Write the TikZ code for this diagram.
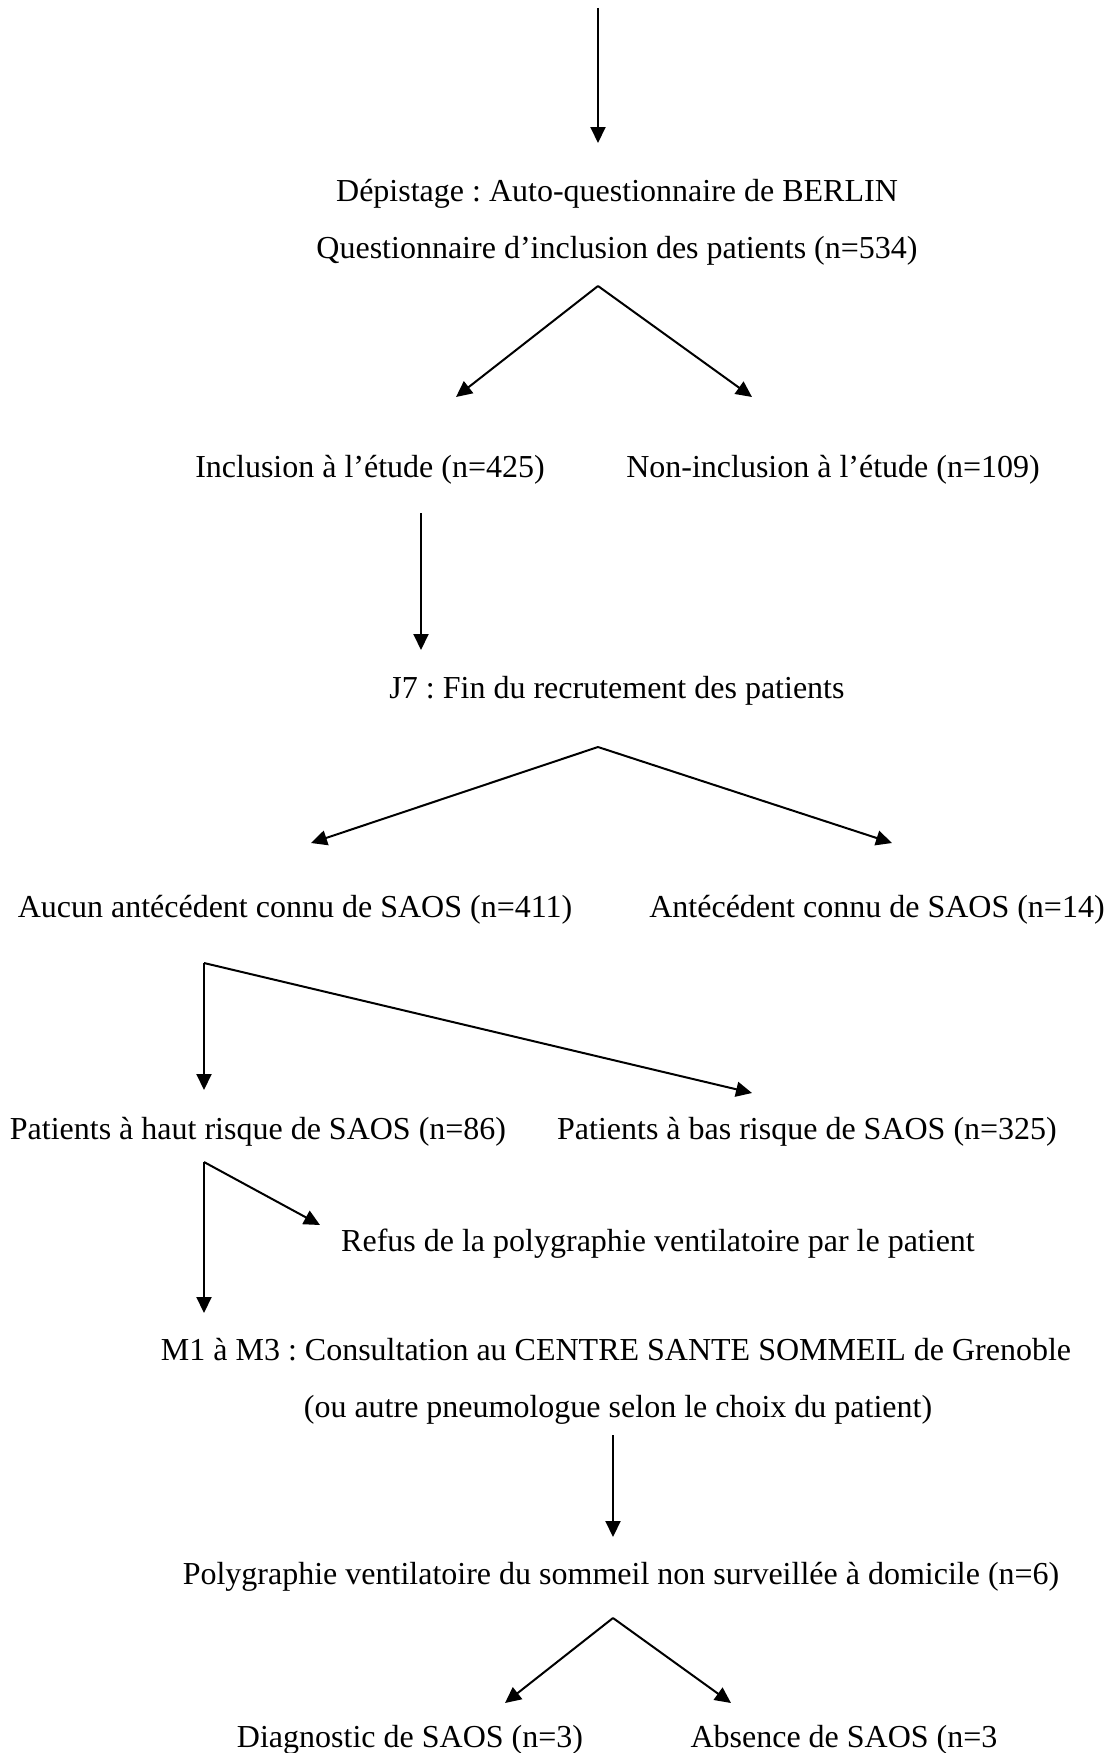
\documentclass[tikz,border=0pt]{standalone}
\usepackage{fontspec}
\setmainfont{Liberation Serif}
\usetikzlibrary{arrows.meta}
\frenchspacing

\begin{document}
\begin{tikzpicture}[x=1pt, y=-1pt,
  flow/.style={arrows={-Triangle[length=16pt,width=15pt]}, line width=2pt},
  lbl/.style={anchor=base, inner sep=0pt, font=\fontsize{32}{38}\selectfont}]
\useasboundingbox (0,0) rectangle (1104,1753);

%steps
\node[lbl] at (617,201) (dep) {Dépistage : Auto-questionnaire de BERLIN};
\node[lbl] at (617,258) (quest) {Questionnaire d’inclusion des patients (n=534)};
\node[lbl] at (370,477) (incl) {Inclusion à l’étude (n=425)};
\node[lbl] at (833,477) (nonincl) {Non-inclusion à l’étude (n=109)};
\node[lbl] at (617,698) (fin) {J7 : Fin du recrutement des patients};
\node[lbl] at (295,917) (aucun) {Aucun antécédent connu de SAOS (n=411)};
\node[lbl] at (877,917) (connu) {Antécédent connu de SAOS (n=14)};
\node[lbl] at (258,1139) (haut) {Patients à haut risque de SAOS (n=86)};
\node[lbl] at (807,1139) (bas) {Patients à bas risque de SAOS (n=325)};
\node[lbl] at (658,1251) (refus) {Refus de la polygraphie ventilatoire par le patient};
\node[lbl] at (616,1360) (consult) {M1 à M3 : Consultation au CENTRE SANTE SOMMEIL de Grenoble};
\node[lbl] at (618,1417) (choix) {(ou autre pneumologue selon le choix du patient)};
\node[lbl] at (621,1584) (poly) {Polygraphie ventilatoire du sommeil non surveillée à domicile (n=6)};
\node[lbl] at (410,1747) (diag) {Diagnostic de SAOS (n=3)};
\node[lbl] at (844,1747) (absence) {Absence de SAOS (n=3};

%branch points
\coordinate (entry) at (598,8);
\coordinate (splitquest) at (598,286);
\coordinate (splitincl) at (421,513);
\coordinate (splitfin) at (598,747);
\coordinate (splitaucun) at (204,963);
\coordinate (splithaut) at (204,1162);
\coordinate (splitchoix) at (613,1435);
\coordinate (splitpoly) at (613,1618);

%arrow ends
\coordinate (todep) at (598,143);
\coordinate (toincl) at (456,397);
\coordinate (tononincl) at (752,397);
\coordinate (tofin) at (421,650);
\coordinate (toaucun) at (311,843);
\coordinate (toconnu) at (892,843);
\coordinate (tohaut) at (204,1090);
\coordinate (tobas) at (752,1093);
\coordinate (torefus) at (320,1225);
\coordinate (toconsult) at (204,1313);
\coordinate (topoly) at (613,1537);
\coordinate (todiag) at (505,1703);
\coordinate (toabsence) at (731,1703);

%connectors
\draw[flow] (entry) -- (todep);
\draw[flow] (splitquest) -- (toincl);
\draw[flow] (splitquest) -- (tononincl);
\draw[flow] (splitincl) -- (tofin);
\draw[flow] (splitfin) -- (toaucun);
\draw[flow] (splitfin) -- (toconnu);
\draw[flow] (splitaucun) -- (tohaut);
\draw[flow] (splitaucun) -- (tobas);
\draw[flow] (splithaut) -- (toconsult);
\draw[flow] (splithaut) -- (torefus);
\draw[flow] (splitchoix) -- (topoly);
\draw[flow] (splitpoly) -- (todiag);
\draw[flow] (splitpoly) -- (toabsence);

\end{tikzpicture}
\end{document}
